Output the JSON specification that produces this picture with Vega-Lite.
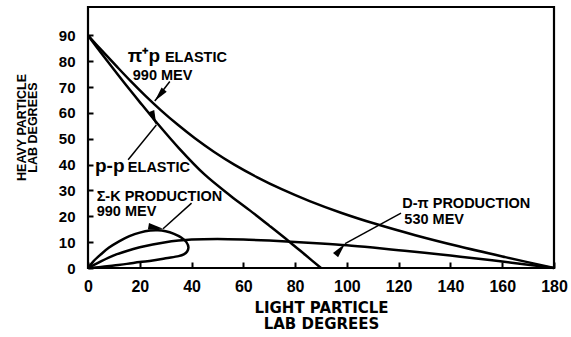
{
  "$schema": "https://vega.github.io/schema/vega-lite/v6.json",
  "width": 466,
  "height": 261,
  "autosize": {"type": "none"},
  "padding": {"left": 88, "top": 7, "right": 17, "bottom": 69},
  "background": "white",
  "config": {"view": {"stroke": "black", "strokeWidth": 2.2}, "font": "Liberation Sans"},
  "datasets": {
    "curves": [
      {"c": "pip", "o": 0, "x": 0, "y": 90}, {"c": "pip", "o": 1, "x": 5.4, "y": 84.1}, {"c": "pip", "o": 2, "x": 10.9, "y": 78.2},
      {"c": "pip", "o": 3, "x": 16.5, "y": 72.3}, {"c": "pip", "o": 4, "x": 22.2, "y": 66.6}, {"c": "pip", "o": 5, "x": 28.2, "y": 61.0},
      {"c": "pip", "o": 6, "x": 34.6, "y": 55.5}, {"c": "pip", "o": 7, "x": 41.3, "y": 50.2}, {"c": "pip", "o": 8, "x": 48.6, "y": 45.0},
      {"c": "pip", "o": 9, "x": 56.5, "y": 40.0}, {"c": "pip", "o": 10, "x": 65.2, "y": 35.2}, {"c": "pip", "o": 11, "x": 74.8, "y": 30.5},
      {"c": "pip", "o": 12, "x": 85.6, "y": 25.9}, {"c": "pip", "o": 13, "x": 97.7, "y": 21.4}, {"c": "pip", "o": 14, "x": 111.3, "y": 17.0},
      {"c": "pip", "o": 15, "x": 126.4, "y": 12.7}, {"c": "pip", "o": 16, "x": 143.2, "y": 8.4}, {"c": "pip", "o": 17, "x": 161.2, "y": 4.2},
      {"c": "pip", "o": 18, "x": 180, "y": 0},
      {"c": "pp", "o": 0, "x": 0, "y": 90}, {"c": "pp", "o": 1, "x": 5, "y": 83.3}, {"c": "pp", "o": 2, "x": 10, "y": 76.8},
      {"c": "pp", "o": 3, "x": 15, "y": 70.4}, {"c": "pp", "o": 4, "x": 20, "y": 64.2}, {"c": "pp", "o": 5, "x": 26.5, "y": 56.3},
      {"c": "pp", "o": 6, "x": 35, "y": 46.5}, {"c": "pp", "o": 7, "x": 45, "y": 36.2}, {"c": "pp", "o": 8, "x": 55, "y": 28},
      {"c": "pp", "o": 9, "x": 62.5, "y": 22.3}, {"c": "pp", "o": 10, "x": 70, "y": 16.4}, {"c": "pp", "o": 11, "x": 78, "y": 10},
      {"c": "pp", "o": 12, "x": 84, "y": 5}, {"c": "pp", "o": 13, "x": 90, "y": 0},
      {"c": "dpi", "o": 0, "x": 0, "y": 0}, {"c": "dpi", "o": 1, "x": 5, "y": 2.6}, {"c": "dpi", "o": 2, "x": 10, "y": 4.9},
      {"c": "dpi", "o": 3, "x": 15, "y": 6.6}, {"c": "dpi", "o": 4, "x": 20, "y": 8}, {"c": "dpi", "o": 5, "x": 25, "y": 9.1},
      {"c": "dpi", "o": 6, "x": 30, "y": 10}, {"c": "dpi", "o": 7, "x": 35, "y": 10.6}, {"c": "dpi", "o": 8, "x": 40, "y": 11},
      {"c": "dpi", "o": 9, "x": 50, "y": 11.2}, {"c": "dpi", "o": 10, "x": 60, "y": 11}, {"c": "dpi", "o": 11, "x": 70, "y": 10.6},
      {"c": "dpi", "o": 12, "x": 80, "y": 10.1}, {"c": "dpi", "o": 13, "x": 90, "y": 9.5}, {"c": "dpi", "o": 14, "x": 100, "y": 8.8},
      {"c": "dpi", "o": 15, "x": 110, "y": 7.9}, {"c": "dpi", "o": 16, "x": 120, "y": 6.9}, {"c": "dpi", "o": 17, "x": 130, "y": 5.9},
      {"c": "dpi", "o": 18, "x": 140, "y": 4.8}, {"c": "dpi", "o": 19, "x": 150, "y": 3.7}, {"c": "dpi", "o": 20, "x": 160, "y": 2.5},
      {"c": "dpi", "o": 21, "x": 170, "y": 1.3}, {"c": "dpi", "o": 22, "x": 180, "y": 0},
      {"c": "sk", "o": 0, "x": 0, "y": 0}, {"c": "sk", "o": 1, "x": 2, "y": 2.5}, {"c": "sk", "o": 2, "x": 5, "y": 5.3},
      {"c": "sk", "o": 3, "x": 8, "y": 7.8}, {"c": "sk", "o": 4, "x": 12, "y": 10.3}, {"c": "sk", "o": 5, "x": 16, "y": 12.3},
      {"c": "sk", "o": 6, "x": 20, "y": 13.7}, {"c": "sk", "o": 7, "x": 24, "y": 14.5}, {"c": "sk", "o": 8, "x": 27, "y": 14.6},
      {"c": "sk", "o": 9, "x": 30, "y": 14.2}, {"c": "sk", "o": 10, "x": 33, "y": 13.3}, {"c": "sk", "o": 11, "x": 36, "y": 11.8},
      {"c": "sk", "o": 12, "x": 38, "y": 10}, {"c": "sk", "o": 13, "x": 38.8, "y": 8}, {"c": "sk", "o": 14, "x": 38.3, "y": 6.4},
      {"c": "sk", "o": 15, "x": 37, "y": 5.3}, {"c": "sk", "o": 16, "x": 35, "y": 4.6}, {"c": "sk", "o": 17, "x": 30, "y": 3.8},
      {"c": "sk", "o": 18, "x": 25, "y": 2.9}, {"c": "sk", "o": 19, "x": 20, "y": 2.3}, {"c": "sk", "o": 20, "x": 15, "y": 1.6},
      {"c": "sk", "o": 21, "x": 10, "y": 1}, {"c": "sk", "o": 22, "x": 5, "y": 0.4}, {"c": "sk", "o": 23, "x": 0, "y": 0}
    ],
    "arrows": [
      {"c": "pip", "x": 25.8, "y": 64.6, "xs": 31.6, "ys": 72.2},
      {"c": "pp", "x": 26.4, "y": 55.3, "xs": 15.5, "ys": 41.9},
      {"c": "sk", "x": 29, "y": 15.2, "xs": 40, "ys": 25.1},
      {"c": "dpi", "x": 99.3, "y": 9.4, "xs": 120.9, "ys": 21.2}
    ],
    "labels": [
      {"t": "π⁺p", "k": "big", "x": 15.4, "y": 79.8},
      {"t": "ELASTIC", "k": "small", "x": 29.7, "y": 79.8},
      {"t": "990 MEV", "k": "small", "x": 17.3, "y": 72.9},
      {"t": "p-p", "k": "big", "x": 2.7, "y": 37.1},
      {"t": "ELASTIC", "k": "small", "x": 15.4, "y": 37.1},
      {"t": "Σ-K PRODUCTION", "k": "small", "x": 3.35, "y": 26.1},
      {"t": "990 MEV", "k": "small", "x": 3.35, "y": 20.2},
      {"t": "D-π PRODUCTION", "k": "small", "x": 121.4, "y": 23.4},
      {"t": "530 MEV", "k": "small", "x": 122.2, "y": 16.9}
    ]
  },
  "encoding": {
    "x": {"field": "x", "type": "quantitative", "scale": {"domain": [0, 180], "nice": false},
      "axis": {"values": [0, 20, 40, 60, 80, 100, 120, 140, 160, 180], "domain": false, "grid": false, "offset": -6, "zindex": 2,
        "ticks": true, "tickSize": 6, "tickWidth": 2, "tickColor": "black", "labelOverlap": false, "labelBound": false, "labelFlush": false,
        "labelFont": "Liberation Sans", "labelFontWeight": "bold", "labelFontSize": 16, "labelColor": "black", "labelPadding": 10,
        "title": ["LIGHT PARTICLE", "LAB DEGREES"], "titleFont": "DejaVu Sans", "titleFontWeight": "bold", "titleFontSize": 15,
        "titleColor": "black", "titleLineHeight": 16.5, "titleBaseline": "alphabetic", "titleY": 50, "titleX": 233, "titleAlign": "center"}},
    "y": {"field": "y", "type": "quantitative", "scale": {"domain": [0, 101], "nice": false},
      "axis": {"values": [0, 10, 20, 30, 40, 50, 60, 70, 80, 90], "domain": false, "grid": false, "offset": -5, "zindex": 2,
        "ticks": true, "tickSize": 5, "tickWidth": 2, "tickColor": "black", "labelOverlap": false, "labelBound": false, "labelFlush": false,
        "labelFont": "Liberation Sans", "labelFontWeight": "bold", "labelFontSize": 15, "labelColor": "black", "labelPadding": 13,
        "title": ["HEAVY PARTICLE", "LAB DEGREES"], "titleFont": "Liberation Sans", "titleFontWeight": "bold", "titleFontSize": 12.5,
        "titleColor": "black", "titleLineHeight": 11.5, "titleBaseline": "alphabetic", "titleAngle": -90,
        "titleX": -68, "titleY": 120, "titleAlign": "center"}}
  },
  "layer": [
    {
      "data": {"name": "curves"},
      "mark": {"type": "line", "color": "black", "strokeWidth": 2.5, "interpolate": "catmull-rom"},
      "encoding": {
        "detail": {"field": "c"},
        "order": {"field": "o", "type": "quantitative"}
      }
    },
    {
      "data": {"name": "arrows"},
      "mark": {"type": "rule", "color": "black", "strokeWidth": 1.5},
      "encoding": {
        "x2": {"field": "xs"},
        "y2": {"field": "ys"}
      }
    },
    {
      "data": {"name": "arrows"},
      "mark": {"type": "point", "shape": "M0,0L-0.45,2L0.45,2Z", "filled": true, "color": "black", "opacity": 1, "size": 220},
      "encoding": {
        "angle": {"field": "c", "type": "nominal", "scale": {"domain": ["pip", "pp", "sk", "dpi"], "range": [219, 40, 229, 241]}, "legend": null}
      }
    },
    {
      "data": {"name": "labels"},
      "transform": [{"filter": "datum.k === 'small'"}],
      "mark": {"type": "text", "align": "left", "baseline": "alphabetic", "font": "Liberation Sans", "fontWeight": "bold", "fontSize": 14.5, "color": "black"},
      "encoding": {"text": {"field": "t"}}
    },
    {
      "data": {"name": "labels"},
      "transform": [{"filter": "datum.k === 'big'"}],
      "mark": {"type": "text", "align": "left", "baseline": "alphabetic", "font": "Liberation Sans", "fontWeight": "bold", "fontSize": 19, "color": "black"},
      "encoding": {"text": {"field": "t"}}
    }
  ]
}
